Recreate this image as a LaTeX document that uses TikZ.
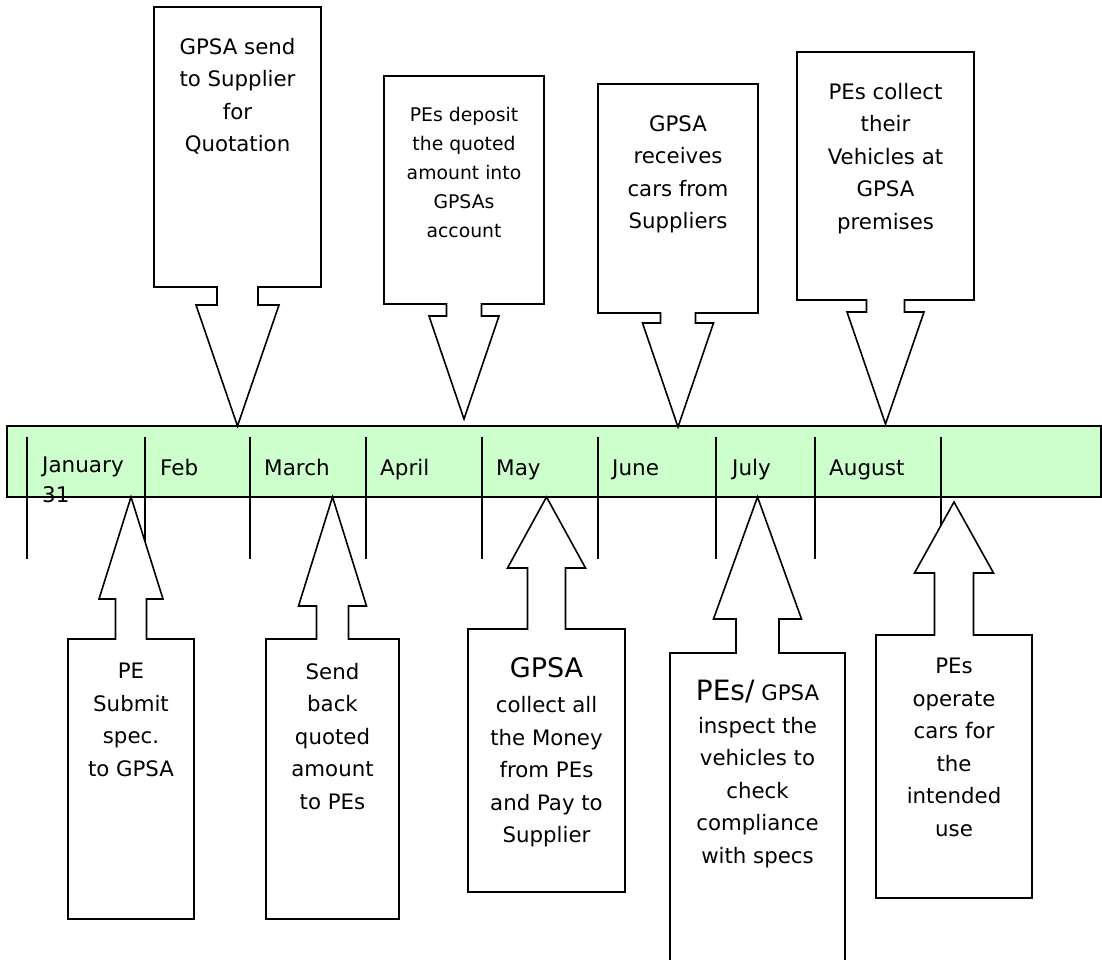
\documentclass[tikz,border=0pt]{standalone}
\usepackage{fontspec}
\setmainfont{DejaVu Sans}
\usetikzlibrary{positioning}
\definecolor{barGreen}{RGB}{204,255,204}

\begin{document}
\begin{tikzpicture}[x=1pt,y=-1pt,
    bar/.style={draw=black,fill=barGreen,line width=1.6pt,
                minimum width=1094pt,minimum height=71pt,inner sep=0pt},
    month/.style={anchor=base west,inner sep=0pt,
                  font=\fontsize{21.5}{30}\selectfont},
    tick/.style={black,line width=2pt},
    callout/.style={draw=black,fill=white,line width=1.6pt,line join=miter},
    txt/.style={anchor=north,inner sep=0pt,align=center,
                font=\fontsize{21.3}{32.5}\selectfont},
    small/.style={txt,font=\fontsize{18.8}{29}\selectfont},
  ]
  \useasboundingbox (0,0) rectangle (1102,960);
  \clip (0,0) rectangle (1102,960);
  % timeline
  \node[bar] (timeline) at (554,461.5) {};
  \foreach \x in {27,145,250,366,482,598,716,815,941}{
    \draw[tick] (\x,437) -- (\x,559);
  }
  \node[month,anchor=north west,align=left] (jan) at (42,457) {January\\31};
  \node[month] (feb) at (160,475) {Feb};
  \node[month] (mar) at (264,475) {March};
  \node[month] (apr) at (380,475) {April};
  \node[month] (may) at (496,475) {May};
  \node[month] (jun) at (612,475) {June};
  \node[month] (jul) at (732,475) {July};
  \node[month] (aug) at (829,475) {August};
  % callouts: centre/half box/far edge/near edge/half neck/head base/half head/tip
  \foreach \cx/\bw/\fe/\ne/\nw/\ny/\hw/\tip in {
      237.5/83.5/7/287/20.5/305/41.5/426,
      464/80/76/304/17.5/316/35/419,
      678/80/84/313/17.5/323/35.5/427,
      885.5/88.5/52/300/19/312/38.5/424,
      131/63/919/639/15.5/599/32/497,
      332.5/66.5/919/639/16/606/34/497,
      546.5/78.5/892/629/19/568/39/497,
      757.5/87.5/985/653/21.5/619/44/497,
      954/78/898/635/19.5/573/39.5/502}{
    \draw[callout] (\cx-\bw,\fe) -- (\cx+\bw,\fe) -- (\cx+\bw,\ne)
      -- (\cx+\nw,\ne) -- (\cx+\nw,\ny) -- (\cx+\hw,\ny) -- (\cx,\tip)
      -- (\cx-\hw,\ny) -- (\cx-\nw,\ny) -- (\cx-\nw,\ne) -- (\cx-\bw,\ne) -- cycle;
  }
  % texts above
  \node[txt] (send) at (237.5,38) {GPSA send\\to Supplier\\for\\Quotation};
  \node[small] (deposit) at (464,107) {PEs deposit\\the quoted\\amount into\\GPSAs\\account};
  \node[txt] (receive) at (678,115) {GPSA\\receives\\cars from\\Suppliers};
  \node[txt] (fetch) at (885.5,83) {PEs collect\\their\\Vehicles at\\GPSA\\premises};
  % texts below
  \node[txt] (submit) at (131,663) {PE\\Submit\\spec.\\to GPSA};
  \node[txt] (sendback) at (332.5,663) {Send\\back\\quoted\\amount\\to PEs};
  \node[txt] (pay) at (546.5,657) {{\fontsize{27}{32}\selectfont GPSA}\\[3pt]collect all\\the Money\\from PEs\\and Pay to\\Supplier};
  \node[txt] (inspect) at (757.5,680) {{\fontsize{28}{32}\selectfont PEs/} GPSA\\inspect the\\vehicles to\\check\\compliance\\with specs};
  \node[txt] (operate) at (954,658) {PEs\\operate\\cars for\\the\\intended\\use};
\end{tikzpicture}
\end{document}
